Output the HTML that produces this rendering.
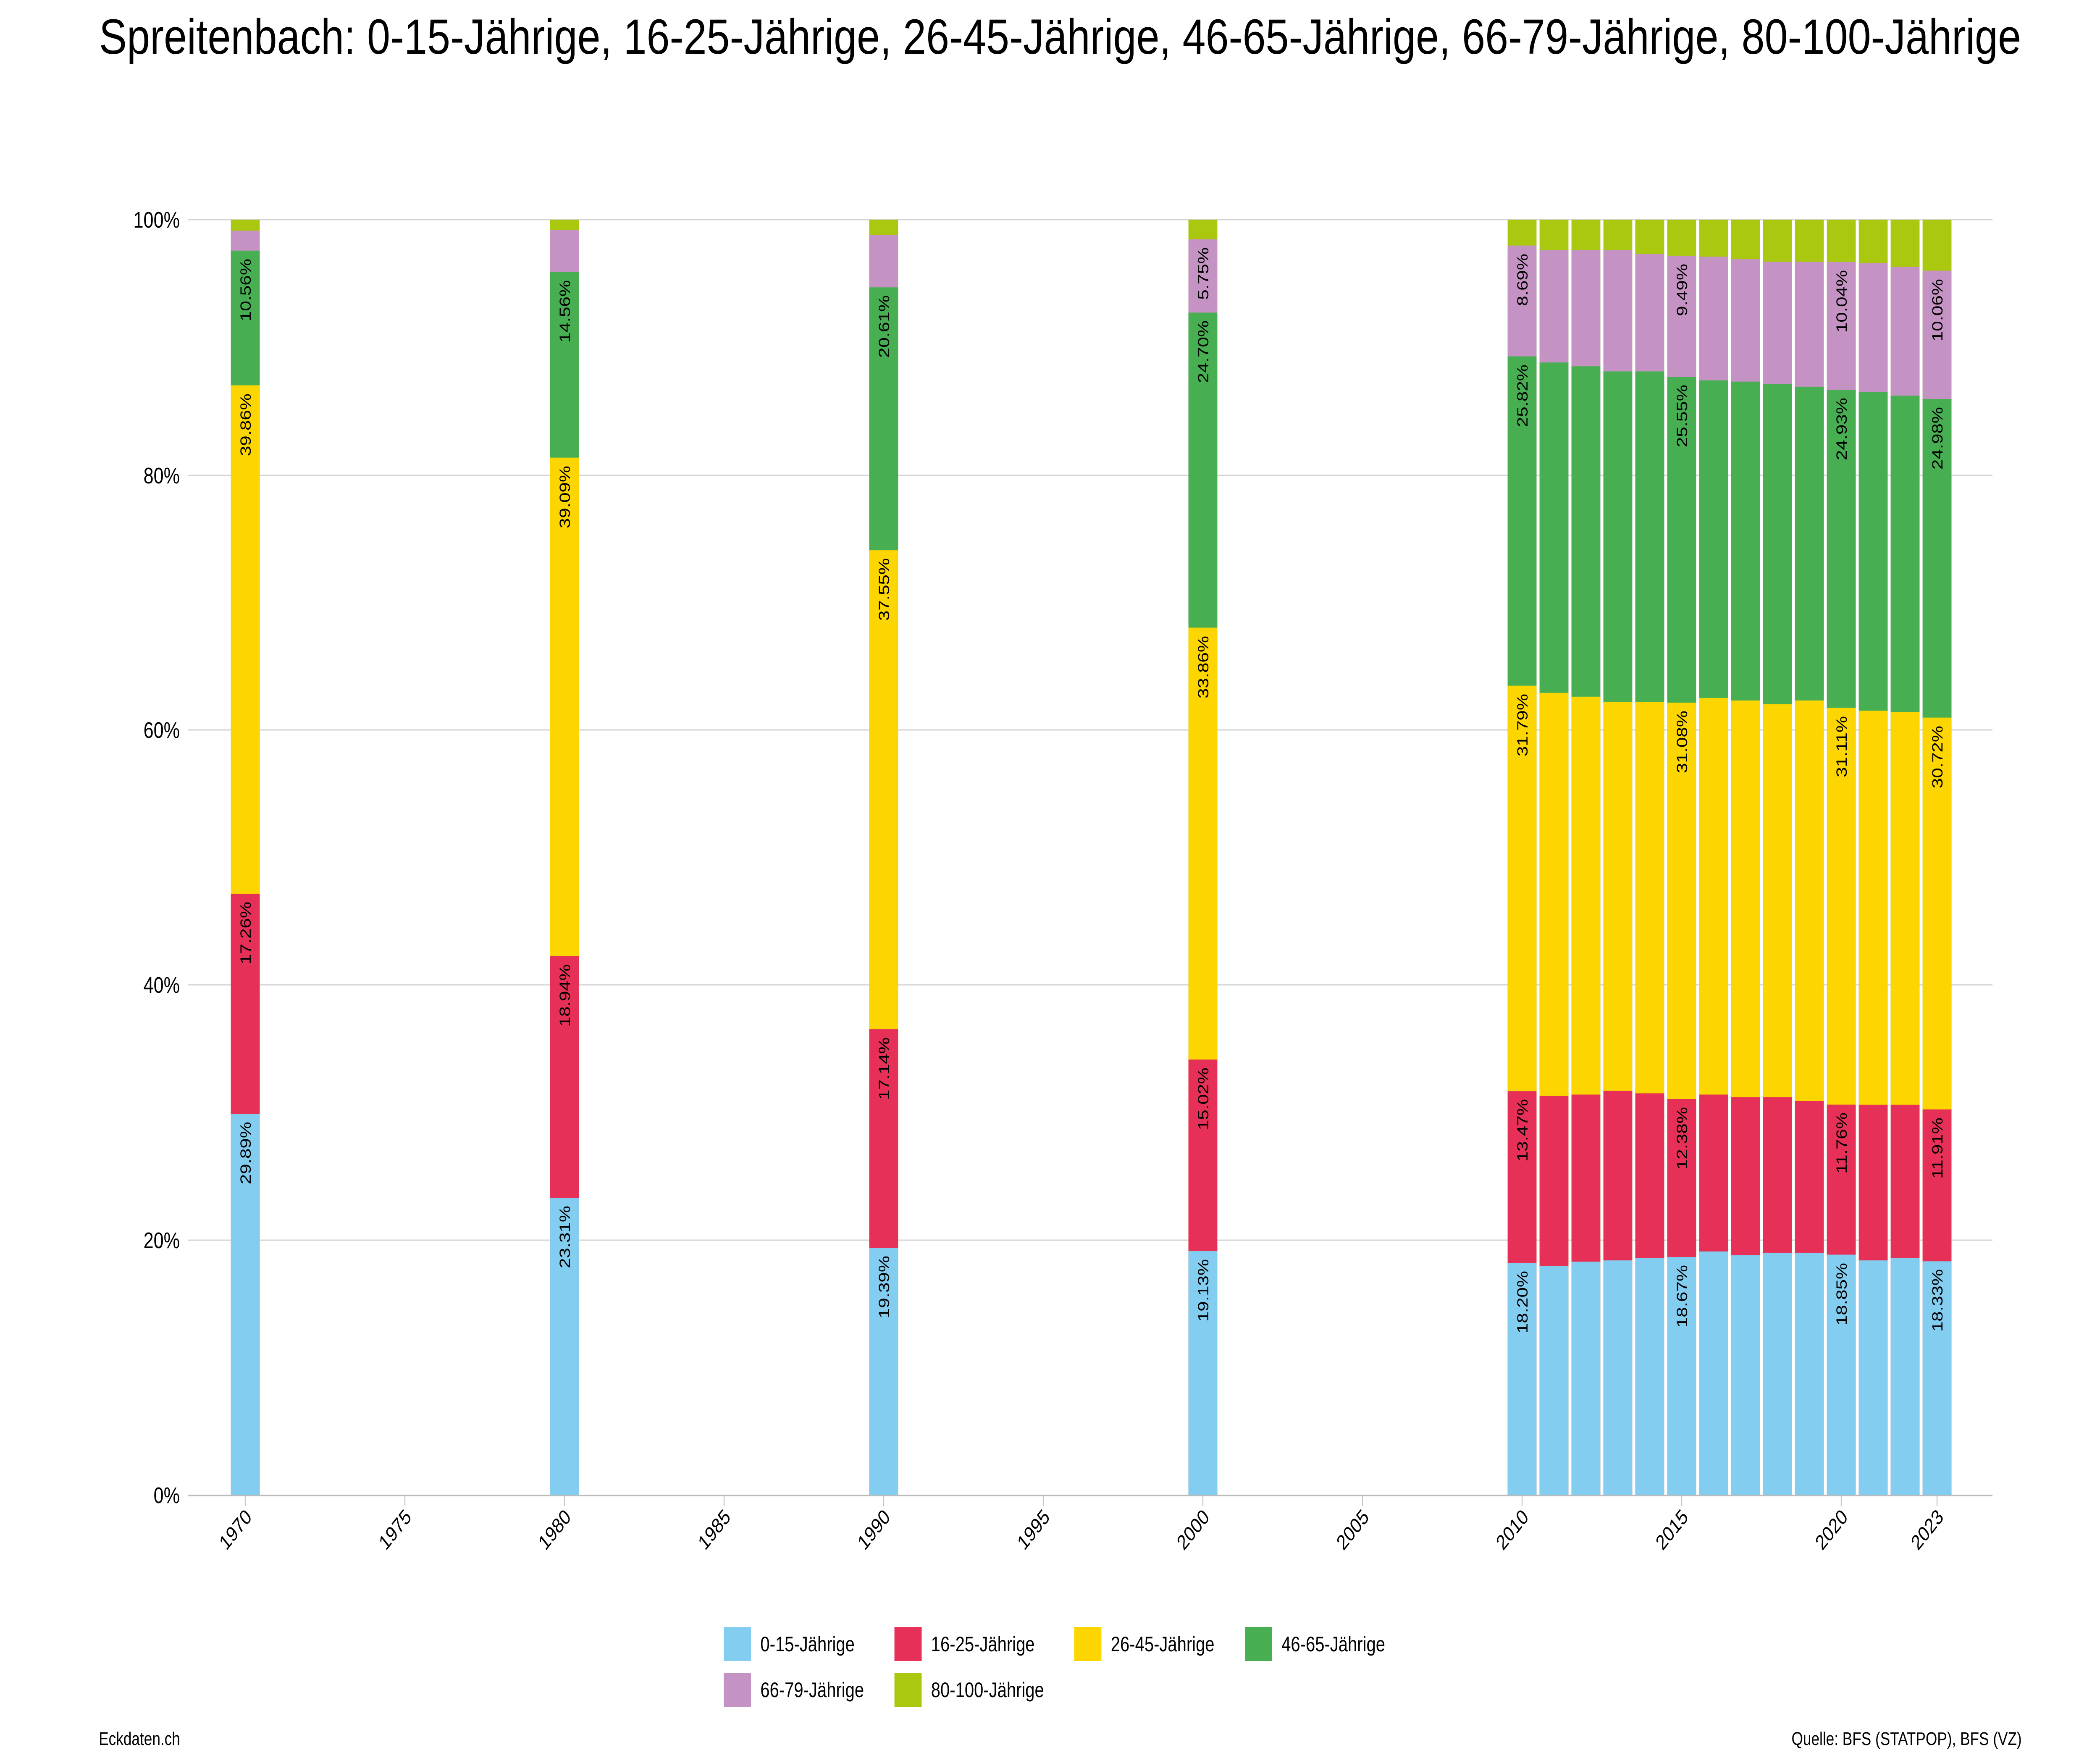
<!DOCTYPE html>
<html><head><meta charset="utf-8"><style>html,body{margin:0;padding:0;background:#fff;overflow:hidden;width:100%;height:100%}svg{display:block;width:100vw;height:100vh}</style></head>
<body>
<svg viewBox="0 0 6250 4167" preserveAspectRatio="none" xmlns="http://www.w3.org/2000/svg" font-family="'Liberation Sans', sans-serif">
<rect width="6250" height="4167" fill="#fff"/>
<text x="3155" y="128" font-size="118" text-anchor="middle" textLength="5720" lengthAdjust="spacingAndGlyphs" fill="#000">Spreitenbach: 0-15-Jährige, 16-25-Jährige, 26-45-Jährige, 46-65-Jährige, 66-79-Jährige, 80-100-Jährige</text>
<g stroke="#d4d4d4" stroke-width="3">
<line x1="560" x2="5930" y1="523" y2="523"/><line x1="560" x2="5930" y1="1132" y2="1132"/><line x1="560" x2="5930" y1="1738" y2="1738"/><line x1="560" x2="5930" y1="2345" y2="2345"/><line x1="560" x2="5930" y1="2953" y2="2953"/>
</g>
<g font-size="54" text-anchor="end" fill="#000">
<text x="535" y="542">100%</text><text x="535" y="1151">80%</text><text x="535" y="1757">60%</text><text x="535" y="2364">40%</text><text x="535" y="2972">20%</text><text x="535" y="3579">0%</text>
</g>
<g transform="translate(0,3560) scale(1,-30.37)">
<g fill="#abc811"><rect x="687" y="0" width="86" height="100"/><rect x="1637" y="0" width="86" height="100"/><rect x="2587" y="0" width="86" height="100"/><rect x="3537" y="0" width="86" height="100"/><rect x="4487" y="0" width="86" height="100"/><rect x="4582" y="0" width="86" height="100"/><rect x="4677" y="0" width="86" height="100"/><rect x="4772" y="0" width="86" height="100"/><rect x="4867" y="0" width="86" height="100"/><rect x="4962" y="0" width="86" height="100"/><rect x="5057" y="0" width="86" height="100"/><rect x="5152" y="0" width="86" height="100"/><rect x="5247" y="0" width="86" height="100"/><rect x="5342" y="0" width="86" height="100"/><rect x="5437" y="0" width="86" height="100"/><rect x="5532" y="0" width="86" height="100"/><rect x="5627" y="0" width="86" height="100"/><rect x="5722" y="0" width="86" height="100"/></g>
<g fill="#c493c3"><rect x="687" y="0" width="86" height="99.14"/><rect x="1637" y="0" width="86" height="99.2"/><rect x="2587" y="0" width="86" height="98.8"/><rect x="3537" y="0" width="86" height="98.46"/><rect x="4487" y="0" width="86" height="97.97"/><rect x="4582" y="0" width="86" height="97.6"/><rect x="4677" y="0" width="86" height="97.6"/><rect x="4772" y="0" width="86" height="97.6"/><rect x="4867" y="0" width="86" height="97.3"/><rect x="4962" y="0" width="86" height="97.17"/><rect x="5057" y="0" width="86" height="97.1"/><rect x="5152" y="0" width="86" height="96.9"/><rect x="5247" y="0" width="86" height="96.7"/><rect x="5342" y="0" width="86" height="96.7"/><rect x="5437" y="0" width="86" height="96.69"/><rect x="5532" y="0" width="86" height="96.6"/><rect x="5627" y="0" width="86" height="96.3"/><rect x="5722" y="0" width="86" height="96.0"/></g>
<g fill="#47af52"><rect x="687" y="0" width="86" height="97.57"/><rect x="1637" y="0" width="86" height="95.9"/><rect x="2587" y="0" width="86" height="94.69"/><rect x="3537" y="0" width="86" height="92.71"/><rect x="4487" y="0" width="86" height="89.28"/><rect x="4582" y="0" width="86" height="88.8"/><rect x="4677" y="0" width="86" height="88.5"/><rect x="4772" y="0" width="86" height="88.1"/><rect x="4867" y="0" width="86" height="88.1"/><rect x="4962" y="0" width="86" height="87.68"/><rect x="5057" y="0" width="86" height="87.4"/><rect x="5152" y="0" width="86" height="87.3"/><rect x="5247" y="0" width="86" height="87.1"/><rect x="5342" y="0" width="86" height="86.9"/><rect x="5437" y="0" width="86" height="86.65"/><rect x="5532" y="0" width="86" height="86.5"/><rect x="5627" y="0" width="86" height="86.2"/><rect x="5722" y="0" width="86" height="85.94"/></g>
<g fill="#fdd500"><rect x="687" y="0" width="86" height="87.01"/><rect x="1637" y="0" width="86" height="81.34"/><rect x="2587" y="0" width="86" height="74.08"/><rect x="3537" y="0" width="86" height="68.01"/><rect x="4487" y="0" width="86" height="63.46"/><rect x="4582" y="0" width="86" height="62.9"/><rect x="4677" y="0" width="86" height="62.6"/><rect x="4772" y="0" width="86" height="62.2"/><rect x="4867" y="0" width="86" height="62.2"/><rect x="4962" y="0" width="86" height="62.13"/><rect x="5057" y="0" width="86" height="62.5"/><rect x="5152" y="0" width="86" height="62.3"/><rect x="5247" y="0" width="86" height="62.0"/><rect x="5342" y="0" width="86" height="62.3"/><rect x="5437" y="0" width="86" height="61.72"/><rect x="5532" y="0" width="86" height="61.5"/><rect x="5627" y="0" width="86" height="61.4"/><rect x="5722" y="0" width="86" height="60.96"/></g>
<g fill="#e63057"><rect x="687" y="0" width="86" height="47.15"/><rect x="1637" y="0" width="86" height="42.25"/><rect x="2587" y="0" width="86" height="36.53"/><rect x="3537" y="0" width="86" height="34.15"/><rect x="4487" y="0" width="86" height="31.67"/><rect x="4582" y="0" width="86" height="31.3"/><rect x="4677" y="0" width="86" height="31.4"/><rect x="4772" y="0" width="86" height="31.7"/><rect x="4867" y="0" width="86" height="31.5"/><rect x="4962" y="0" width="86" height="31.05"/><rect x="5057" y="0" width="86" height="31.4"/><rect x="5152" y="0" width="86" height="31.2"/><rect x="5247" y="0" width="86" height="31.2"/><rect x="5342" y="0" width="86" height="30.9"/><rect x="5437" y="0" width="86" height="30.61"/><rect x="5532" y="0" width="86" height="30.6"/><rect x="5627" y="0" width="86" height="30.6"/><rect x="5722" y="0" width="86" height="30.24"/></g>
<g fill="#82cdf0"><rect x="687" y="0" width="86" height="29.89"/><rect x="1637" y="0" width="86" height="23.31"/><rect x="2587" y="0" width="86" height="19.39"/><rect x="3537" y="0" width="86" height="19.13"/><rect x="4487" y="0" width="86" height="18.2"/><rect x="4582" y="0" width="86" height="17.95"/><rect x="4677" y="0" width="86" height="18.3"/><rect x="4772" y="0" width="86" height="18.4"/><rect x="4867" y="0" width="86" height="18.6"/><rect x="4962" y="0" width="86" height="18.67"/><rect x="5057" y="0" width="86" height="19.1"/><rect x="5152" y="0" width="86" height="18.8"/><rect x="5247" y="0" width="86" height="19.0"/><rect x="5342" y="0" width="86" height="19.0"/><rect x="5437" y="0" width="86" height="18.85"/><rect x="5532" y="0" width="86" height="18.4"/><rect x="5627" y="0" width="86" height="18.6"/><rect x="5722" y="0" width="86" height="18.33"/></g>
</g>
<g font-size="44" text-anchor="end" fill="#000">
<text transform="translate(746,2671) rotate(-90)">29.89%</text><text transform="translate(746,2147) rotate(-90)">17.26%</text><text transform="translate(746,937) rotate(-90)">39.86%</text><text transform="translate(746,616) rotate(-90)">10.56%</text>
<text transform="translate(1696,2871) rotate(-90)">23.31%</text><text transform="translate(1696,2296) rotate(-90)">18.94%</text><text transform="translate(1696,1109) rotate(-90)">39.09%</text><text transform="translate(1696,667) rotate(-90)">14.56%</text>
<text transform="translate(2646,2990) rotate(-90)">19.39%</text><text transform="translate(2646,2470) rotate(-90)">17.14%</text><text transform="translate(2646,1329) rotate(-90)">37.55%</text><text transform="translate(2646,703) rotate(-90)">20.61%</text>
<text transform="translate(3596,2998) rotate(-90)">19.13%</text><text transform="translate(3596,2542) rotate(-90)">15.02%</text><text transform="translate(3596,1514) rotate(-90)">33.86%</text><text transform="translate(3596,763) rotate(-90)">24.70%</text><text transform="translate(3596,589) rotate(-90)">5.75%</text>
<text transform="translate(4546,3026) rotate(-90)">18.20%</text><text transform="translate(4546,2617) rotate(-90)">13.47%</text><text transform="translate(4546,1652) rotate(-90)">31.79%</text><text transform="translate(4546,868) rotate(-90)">25.82%</text><text transform="translate(4546,604) rotate(-90)">8.69%</text>
<text transform="translate(5021,3012) rotate(-90)">18.67%</text><text transform="translate(5021,2636) rotate(-90)">12.38%</text><text transform="translate(5021,1692) rotate(-90)">31.08%</text><text transform="translate(5021,916) rotate(-90)">25.55%</text><text transform="translate(5021,628) rotate(-90)">9.49%</text>
<text transform="translate(5496,3007) rotate(-90)">18.85%</text><text transform="translate(5496,2649) rotate(-90)">11.76%</text><text transform="translate(5496,1705) rotate(-90)">31.11%</text><text transform="translate(5496,947) rotate(-90)">24.93%</text><text transform="translate(5496,643) rotate(-90)">10.04%</text>
<text transform="translate(5781,3022) rotate(-90)">18.33%</text><text transform="translate(5781,2661) rotate(-90)">11.91%</text><text transform="translate(5781,1728) rotate(-90)">30.72%</text><text transform="translate(5781,969) rotate(-90)">24.98%</text><text transform="translate(5781,664) rotate(-90)">10.06%</text>
</g>
<line x1="560" x2="5930" y1="3561" y2="3561" stroke="#bbb" stroke-width="4"/>
<g stroke="#c8c8c8" stroke-width="3">
<line x1="730" x2="730" y1="3563" y2="3586"/><line x1="1205" x2="1205" y1="3563" y2="3586"/><line x1="1680" x2="1680" y1="3563" y2="3586"/><line x1="2155" x2="2155" y1="3563" y2="3586"/><line x1="2630" x2="2630" y1="3563" y2="3586"/><line x1="3105" x2="3105" y1="3563" y2="3586"/><line x1="3580" x2="3580" y1="3563" y2="3586"/><line x1="4055" x2="4055" y1="3563" y2="3586"/><line x1="4530" x2="4530" y1="3563" y2="3586"/><line x1="5005" x2="5005" y1="3563" y2="3586"/><line x1="5480" x2="5480" y1="3563" y2="3586"/><line x1="5765" x2="5765" y1="3563" y2="3586"/>
</g>
<g font-size="50" text-anchor="end" fill="#000">
<text transform="translate(752,3615) rotate(-45)">1970</text><text transform="translate(1227,3615) rotate(-45)">1975</text><text transform="translate(1702,3615) rotate(-45)">1980</text><text transform="translate(2177,3615) rotate(-45)">1985</text><text transform="translate(2652,3615) rotate(-45)">1990</text><text transform="translate(3127,3615) rotate(-45)">1995</text><text transform="translate(3602,3615) rotate(-45)">2000</text><text transform="translate(4077,3615) rotate(-45)">2005</text><text transform="translate(4552,3615) rotate(-45)">2010</text><text transform="translate(5027,3615) rotate(-45)">2015</text><text transform="translate(5502,3615) rotate(-45)">2020</text><text transform="translate(5787,3615) rotate(-45)">2023</text>
</g>
<g font-size="50" fill="#000">
<rect x="2154" y="3874" width="81" height="81" fill="#82cdf0"/><text x="2263" y="3932">0-15-Jährige</text>
<rect x="2662" y="3874" width="81" height="81" fill="#e63057"/><text x="2771" y="3932">16-25-Jährige</text>
<rect x="3197" y="3874" width="81" height="81" fill="#fdd500"/><text x="3306" y="3932">26-45-Jährige</text>
<rect x="3705" y="3874" width="81" height="81" fill="#47af52"/><text x="3814" y="3932">46-65-Jährige</text>
<rect x="2154" y="3983" width="81" height="81" fill="#c493c3"/><text x="2263" y="4041">66-79-Jährige</text>
<rect x="2662" y="3983" width="81" height="81" fill="#abc811"/><text x="2771" y="4041">80-100-Jährige</text>
</g>
<text x="294" y="4155" font-size="44" fill="#000">Eckdaten.ch</text>
<text x="6017" y="4155" font-size="44" text-anchor="end" fill="#000">Quelle: BFS (STATPOP), BFS (VZ)</text>
</svg>
</body></html>
